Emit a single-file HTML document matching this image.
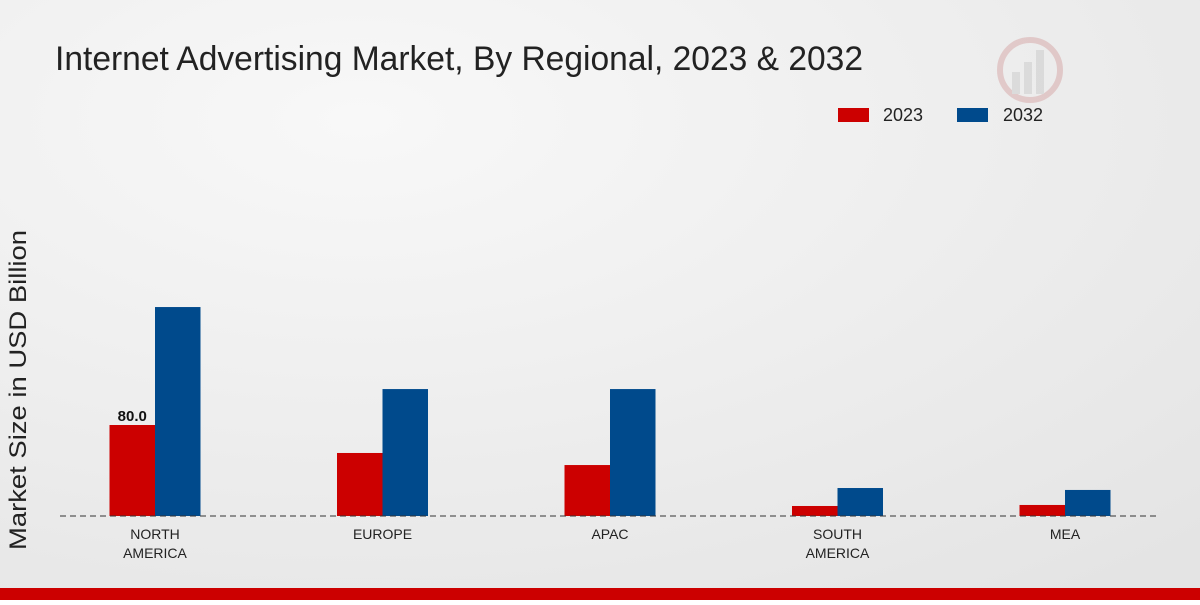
<!DOCTYPE html>
<html><head><meta charset="utf-8"><style>
body{margin:0;width:1200px;height:600px;overflow:hidden;font-family:"Liberation Sans",sans-serif}
</style></head><body>
<svg width="1200" height="600">
<defs><radialGradient id="bg" cx="0.3" cy="0.2" r="1"><stop offset="0" stop-color="#f8f8f8"/><stop offset="1" stop-color="#e4e4e4"/></radialGradient></defs>
<rect width="1200" height="600" fill="url(#bg)"/>
<text x="55" y="70" font-size="34" textLength="808" lengthAdjust="spacingAndGlyphs" fill="#222">Internet Advertising Market, By Regional, 2023 &amp; 2032</text>
<g opacity="0.35"><circle cx="1030" cy="70" r="30" fill="none" stroke="#c88" stroke-width="6"/><rect x="1012" y="72" width="8" height="22" fill="#bbb"/><rect x="1024" y="62" width="8" height="32" fill="#bbb"/><rect x="1036" y="50" width="8" height="44" fill="#bbb"/></g>
<g>
<rect x="838" y="108" width="31" height="14" fill="#cc0000"/>
<text x="883" y="121" font-size="18" fill="#222">2023</text>
<rect x="957" y="108" width="31" height="14" fill="#004a8c"/>
<text x="1003" y="121" font-size="18" fill="#222">2032</text>
</g>
<text transform="translate(26,390) rotate(-90)" text-anchor="middle" font-size="24" textLength="320" lengthAdjust="spacingAndGlyphs" fill="#222">Market Size in USD Billion</text>
<g id="plot"></g>
<line x1="60" y1="516" x2="1160" y2="516" stroke="#333" stroke-dasharray="6,4"/>
<rect x="0" y="588" width="1200" height="12" fill="#cc0000"/>
</svg>
<script>
const categories=[["NORTH","AMERICA"],["EUROPE"],["APAC"],["SOUTH","AMERICA"],["MEA"]];
const values2023=[80.0,55.4,44.8,8.8,9.7];
const values2032=[183.7,111.6,111.6,24.6,22.9];
const ns="http://www.w3.org/2000/svg";
const g=document.getElementById("plot");
const base=516, k=91/80;
const xc=i=>155+i*227.5;
const y=v=>base-v*k;
function rect(x,v,c,name){const r=document.createElementNS(ns,"rect");r.setAttribute("x",x);r.setAttribute("y",y(v));r.setAttribute("width",45.5);r.setAttribute("height",base-y(v));r.setAttribute("fill",c);


g.appendChild(r);}
categories.forEach((c,i)=>{
rect(xc(i)-45.5,values2023[i],"#cc0000","bar-2023-"+i);
rect(xc(i),values2032[i],"#004a8c","bar-2032-"+i);
c.forEach((l,j)=>{const t=document.createElementNS(ns,"text");t.setAttribute("x",xc(i));t.setAttribute("y",539+j*19);t.setAttribute("text-anchor","middle");t.setAttribute("font-size","14");t.setAttribute("fill","#222");t.textContent=l;


g.appendChild(t);});
});
const lb=document.createElementNS(ns,"text");lb.setAttribute("x",xc(0)-22.75);lb.setAttribute("y",y(values2023[0])-4);lb.setAttribute("text-anchor","middle");lb.setAttribute("font-size","15");lb.setAttribute("font-weight","bold");lb.setAttribute("fill","#111");lb.textContent=values2023[0].toFixed(1);


g.appendChild(lb);
</script>
</body></html>
